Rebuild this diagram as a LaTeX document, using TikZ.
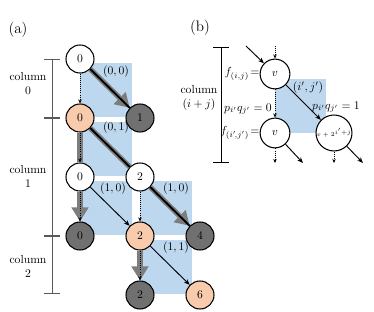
\documentclass[tikz,border=0pt]{standalone}
\usepackage{amsmath,amssymb}
\usepackage{xcolor}
\usepackage{tikz}
\usetikzlibrary{arrows.meta,positioning,calc,backgrounds}
\definecolor{cellblue}{RGB}{189,215,238}
\definecolor{visited}{RGB}{248,203,173}
\definecolor{leaf}{RGB}{112,112,112}
\definecolor{trail}{RGB}{125,125,125}

\begin{document}
\begin{tikzpicture}[
    x=0.857pt, y=-0.857pt,
    state/.style={circle, draw, line width=0.9pt, minimum size=24pt, inner sep=0pt, font=\normalsize},
    plain/.style={state, fill=white},
    hit/.style={state, fill=visited},
    leafnode/.style={state, fill=leaf},
    bstate/.style={state, fill=white, minimum size=25.5pt},
    cell/.style={fill=cellblue},
    zero/.style={-{Stealth[length=3.5pt,width=3pt]}, densely dotted, line width=0.8pt},
    one/.style={-{Stealth[length=5pt,width=4pt]}, line width=0.8pt},
    bold/.style={line width=1.6pt},
    trailbar/.style={draw=trail, line width=4.5pt},
    trailarrow/.style={trailbar, -{Triangle[width=14pt,length=12pt]}},
    colaxis/.style={{Bar[width=13pt]}-{Bar[width=13pt]}, line width=0.5pt},
    lbl/.style={font=\normalsize, inner sep=1pt},
]
\useasboundingbox (0,0) rectangle (374,312);

% === PANEL (a): NODES ===
\node[plain] (a0) at (80,59) {0};
\node[hit] (b0) at (80,118) {0};
\node[leafnode] (b1) at (140,118) {1};
\node[plain] (c0) at (80,177) {0};
\node[plain] (c2) at (140,177) {2};
\node[leafnode] (d0) at (80,236) {0};
\node[hit] (d2) at (140,236) {2};
\node[leafnode] (d4) at (200,236) {4};
\node[leafnode] (e2) at (140,295) {2};
\node[hit] (e6) at (200,295) {6};

% === PANEL (a): CELLS ===
\begin{scope}[on background layer]
\fill[cell] ($(a0)+(0,4)$) rectangle ++(52,54);
\fill[cell] ($(b0)+(0,4)$) rectangle ++(52,54);
\fill[cell] ($(c0)+(0,4)$) rectangle ++(52,54);
\fill[cell] ($(c2)+(0,4)$) rectangle ++(52,54);
\fill[cell] ($(d2)+(0,4)$) rectangle ++(52,54);
\end{scope}

% === PANEL (a): TRAIL ===
\draw[trailarrow] (a0) -- (b1);
\draw[trailbar] (b0) -- (c0);
\draw[trailbar] (b0) -- (c2);
\draw[trailarrow] (c0) -- (d0);
\draw[trailarrow] (c2) -- (d4);
\draw[trailarrow] (d2) -- (e2);

% === PANEL (a): EDGES ===
\draw[zero] (a0) -- (b0);
\draw[bold] (a0) -- (b1);
\draw[zero] (b0) -- (c0);
\draw[bold] (b0) -- (c2);
\draw[zero] (c0) -- (d0);
\draw[one] (c0) -- (d2);
\draw[zero] (c2) -- (d2);
\draw[bold] (c2) -- (d4);
\draw[zero] (d2) -- (e2);
\draw[one] (d2) -- (e6);

% === PANEL (a): LABELS ===
\node[lbl] (l00) at (116,72) {$(0,0)$};
\node[lbl] (l01) at (116,128) {$(0,1)$};
\node[lbl] (l10a) at (113,189) {$(1,0)$};
\node[lbl] (l10b) at (176,189) {$(1,0)$};
\node[lbl] (l11) at (176,248) {$(1,1)$};
\node[font=\fontsize{13}{15}\selectfont] (tag_a) at (18,30) {(a)};

% === PANEL (a): COLUMN AXIS ===
\coordinate (ax0) at (52,59);
\coordinate (ax1) at (52,118);
\coordinate (ax2) at (52,236);
\coordinate (ax3) at (52,294);
\draw[colaxis, black!65] (ax0) -- (ax1);
\draw[colaxis, black!65] (ax1) -- (ax2);
\draw[colaxis, black!65] (ax2) -- (ax3);
\node[align=center] (col0) at (28,84) {column\\0};
\node[align=center] (col1) at (28,176) {column\\1};
\node[align=center] (col2) at (28,266) {column\\2};

% === PANEL (b) ===
\node[bstate] (vt) at (275,74) {$v$};
\node[bstate] (vb) at (275,133) {$v$};
\node[bstate, font=\fontsize{4}{5}\selectfont] (vr) at (334,133) {$v+2^{i'+j}$};
\begin{scope}[on background layer]
\fill[cell] ($(vt)+(0,5)$) rectangle ++(51,54);
\end{scope}

\coordinate (inA) at (246,46);
\coordinate (inB) at (275,46);
\coordinate (outA) at (275,163);
\coordinate (outB) at (303,163);
\coordinate (outC) at (334,163);
\coordinate (outD) at (363,163);
\draw[one] (inA) -- (vt);
\draw[zero] (inB) -- (vt);
\draw[zero] (vt) -- (vb);
\draw[one] (vt) -- (vr);
\draw[zero] (vb) -- (outA);
\draw[one] (vb) -- (outB);
\draw[zero] (vr) -- (outC);
\draw[one] (vr) -- (outD);

\node[lbl, inner sep=0pt, left=0pt of vt] (fij) {$f_{(i,j)}\!=$};
\node[lbl, inner sep=0pt, left=0pt of vb] (fij2) {$f_{(i'\!,j')}\!=$};
\node[lbl] (p0) at (248,109) {$p_{i'}q_{j'} = 0$};
\node[lbl] (lij) at (308,88) {$(i',j')$};
\node[lbl] (p1) at (336,107) {$p_{i'}q_{j'} = 1$};

\coordinate (bx0) at (221,47);
\coordinate (bx1) at (221,163);
\draw[colaxis] (bx0) -- (bx1);
\node[align=center] (colij) at (199,98) {column\\$(i+j)$};
\node[font=\fontsize{13}{15}\selectfont] (tag_b) at (200,28) {(b)};

\end{tikzpicture}
\end{document}
